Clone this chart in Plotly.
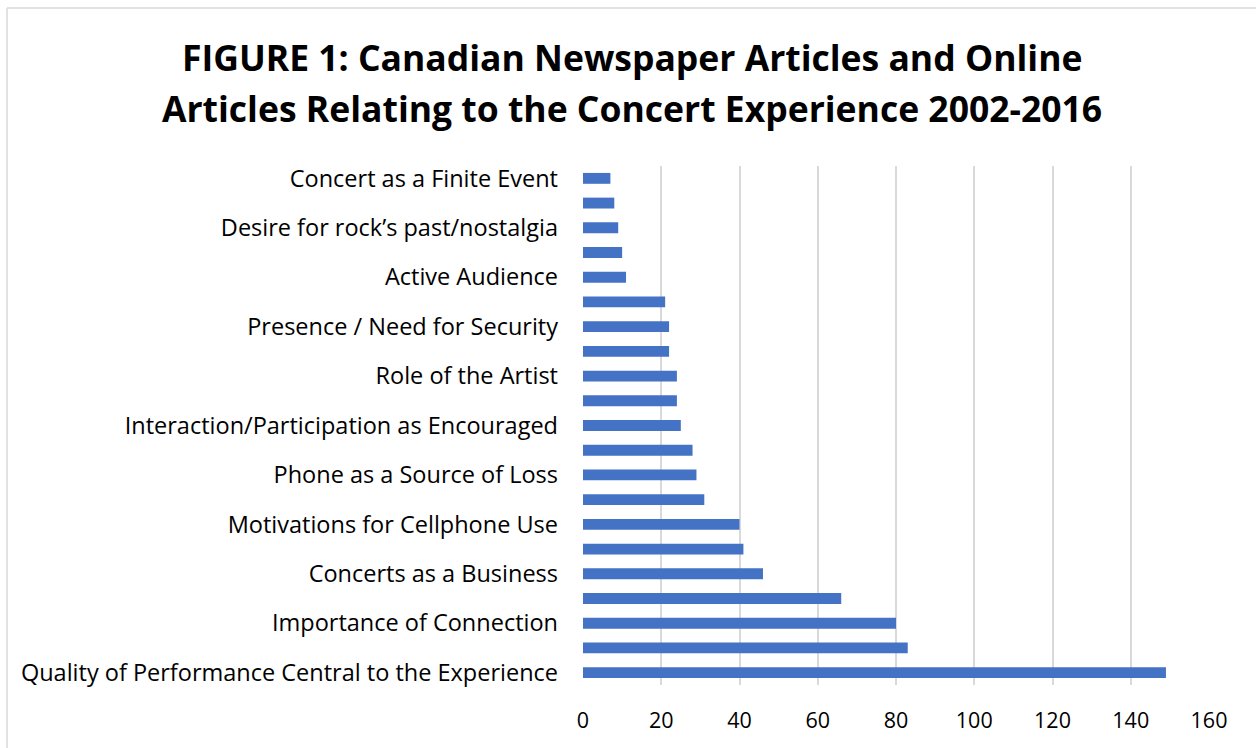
import plotly.graph_objects as go

# Themes, listed bottom to top; every other category is left unlabelled on the axis
labels = [
    "Quality of Performance Central to the Experience", "",
    "Importance of Connection", "",
    "Concerts as a Business", "",
    "Motivations for Cellphone Use", "",
    "Phone as a Source of Loss", "",
    "Interaction/Participation as Encouraged", "",
    "Role of the Artist", "",
    "Presence / Need for Security", "",
    "Active Audience", "",
    "Desire for rock\u2019s past/nostalgia", "",
    "Concert as a Finite Event",
]
article_counts = [149, 83, 80, 66, 46, 41, 40, 31, 29, 28, 25, 24, 24, 22, 22, 21, 11, 10, 9, 8, 7]
x_ticks = [0, 20, 40, 60, 80, 100, 120, 140, 160]
title_lines = [
    "FIGURE 1: Canadian Newspaper Articles and Online",
    "Articles Relating to the Concert Experience 2002-2016",
]

positions = list(range(len(labels)))
label_pos = [p for p, t in zip(positions, labels) if t]
label_txt = [t for t in labels if t]

W, H = 1256, 748
L, R, T, B = 583, 47, 166, 63
pw, ph = W - L - R, H - T - B

fig = go.Figure(go.Bar(
    x=article_counts,
    y=positions,
    orientation="h",
    marker=dict(color="#4472C4", line=dict(width=0)),
    hoverinfo="x",
))

font_family = "'Open Sans', Lato, sans-serif"

fig.update_layout(
    width=W, height=H,
    margin=dict(l=L, r=R, t=T, b=B, pad=0),
    paper_bgcolor="white",
    plot_bgcolor="white",
    bargap=0.56,
    showlegend=False,
    font=dict(family=font_family, color="#000000", size=21),
    xaxis=dict(
        range=[0, 160],
        tickvals=x_ticks,
        showgrid=True, gridcolor="#d9d9d9", gridwidth=1.5,
        zeroline=False, showline=False, ticks="",
        ticklabelstandoff=20,
        tickfont=dict(size=21.5),
        fixedrange=True,
    ),
    yaxis=dict(
        range=[-0.5, len(labels) - 0.5],
        tickvals=label_pos, ticktext=label_txt,
        showgrid=False, zeroline=False, showline=False, ticks="",
        ticklabelstandoff=24,
        tickfont=dict(size=23.5),
        fixedrange=True,
    ),
)

# Two-line bold title, centred on the whole figure
for line, yc in zip(title_lines, [57, 108]):
    fig.add_annotation(
        text=f"<b>{line}</b>", showarrow=False,
        xref="paper", yref="paper",
        x=(632 - L) / pw, y=(H - B - yc) / ph,
        xanchor="center", yanchor="middle",
        font=dict(family=font_family, size=35.5, color="#000000"),
    )

# Light chart-area frame (left and top edges)
fx0 = (7 - L) / pw
fy1 = (H - B - 8) / ph
fig.add_shape(type="line", xref="paper", yref="paper",
              x0=fx0, x1=fx0, y0=fy1, y1=-0.5,
              line=dict(color="#d9d9d9", width=1.5))
fig.add_shape(type="line", xref="paper", yref="paper",
              x0=fx0, x1=1.5, y0=fy1, y1=fy1,
              line=dict(color="#d9d9d9", width=1.5))

fig.write_html("out.html")
